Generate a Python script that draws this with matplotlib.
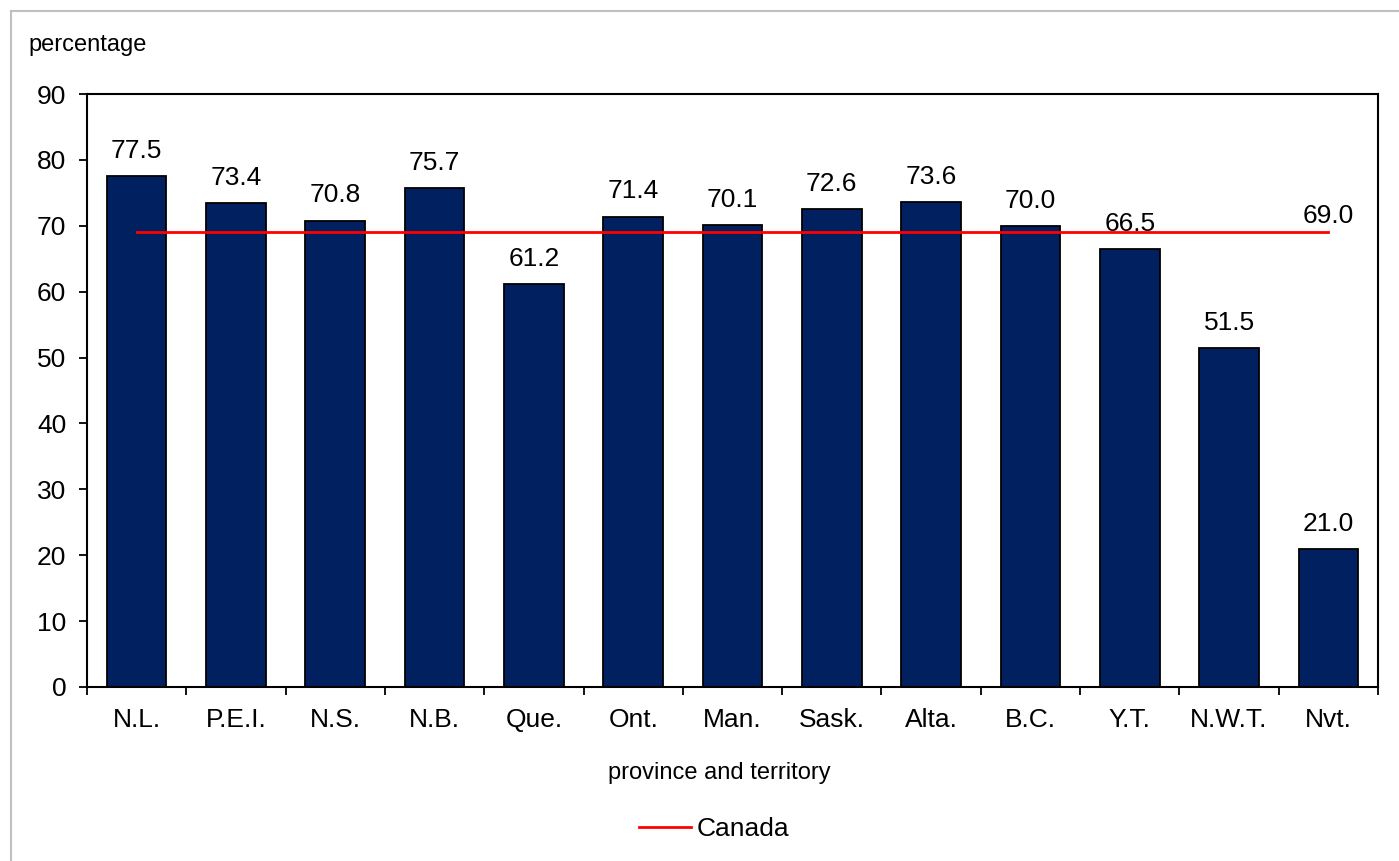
import numpy as np
import matplotlib.pyplot as plt
from matplotlib.lines import Line2D

plt.rcParams['font.family'] = ['Liberation Sans', 'DejaVu Sans']

# data
provinces = ['N.L.', 'P.E.I.', 'N.S.', 'N.B.', 'Que.', 'Ont.', 'Man.', 'Sask.',
             'Alta.', 'B.C.', 'Y.T.', 'N.W.T.', 'Nvt.']
values = [77.5, 73.4, 70.8, 75.7, 61.2, 71.4, 70.1, 72.6, 73.6, 70.0, 66.5, 51.5, 21.0]
canada = 69.0

fig = plt.figure(figsize=(13.99, 8.61), dpi=100)
ax = fig.add_axes([87 / 1399, 1 - 687 / 861, 1291 / 1399, 593 / 861])

x = np.arange(len(provinces))
ax.bar(x, values, width=0.6, color='#002060', edgecolor='black', linewidth=1.3, zorder=2)

# value labels above bars
for xi, v in zip(x, values):
    ax.annotate(f'{v:.1f}', (xi, v), xytext=(0, 13), textcoords='offset points',
                ha='center', va='baseline', fontsize=19)

# Canada average line
ax.plot([x[0], x[-1]], [canada, canada], color='red', linewidth=2, zorder=3)
ax.annotate(f'{canada:.1f}', (x[-1], canada), xytext=(0, 6.5), textcoords='offset points',
            ha='center', va='baseline', fontsize=19)

ax.set_xlim(-0.5, len(provinces) - 0.5)
ax.set_ylim(0, 90)
ax.set_yticks(range(0, 91, 10))
ax.set_xticks(np.arange(-0.5, len(provinces), 1))
ax.set_xticklabels([])
ax.set_xticks(x, minor=True)
ax.set_xticklabels(provinces, minor=True)
ax.tick_params(axis='x', which='minor', length=0, pad=15, labelsize=19)
ax.tick_params(axis='x', which='major', direction='out', length=6, width=1.3)
ax.tick_params(axis='y', direction='out', length=6, width=1.3, labelsize=19, pad=9)
for s in ax.spines.values():
    s.set_linewidth(1.5)

ax.set_xlabel('province and territory', fontsize=17, va='center')
ax.xaxis.set_label_coords(0.49, -86 / 593)
fig.text(28 / 1399, 1 - 45 / 861, 'percentage', fontsize=17, va='center', ha='left')

handle = Line2D([], [], color='red', linewidth=2)
fig.legend([handle], ['Canada'], loc='center', bbox_to_anchor=(714 / 1399, 1 - 829 / 861),
           frameon=False, fontsize=19, handlelength=2.0, handletextpad=0.2)

# outer gray border (top and left)
fig.add_artist(Line2D([11 / 1399, 1], [1 - 11 / 861, 1 - 11 / 861], color='#c0c0c0', linewidth=1.5))
fig.add_artist(Line2D([11 / 1399, 11 / 1399], [0, 1 - 11 / 861], color='#c0c0c0', linewidth=1.5))

fig.savefig('out.png', dpi=100)
